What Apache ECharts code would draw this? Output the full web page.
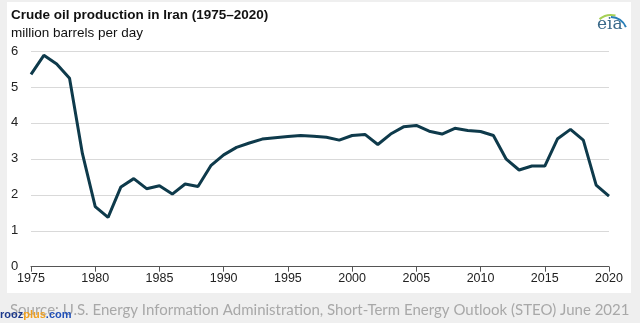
<!DOCTYPE html>
<html>
<head>
<meta charset="utf-8">
<script src="https://cdn.jsdelivr.net/npm/echarts@6/dist/echarts.min.js"></script>
<style>html,body{margin:0;padding:0;background:#efefef}#c{width:640px;height:323px}</style>
</head>
<body>
<div id="c"></div>
<script>
const years = [];
for (let y = 1975; y <= 2020; y++) years.push(y);
const production = [5.35,5.88,5.64,5.24,3.15,1.67,1.37,2.22,2.45,2.17,
  2.25,2.02,2.30,2.23,2.81,3.11,3.32,3.44,3.55,3.59,
  3.62,3.65,3.63,3.60,3.52,3.65,3.68,3.40,3.69,3.89,
  3.93,3.77,3.69,3.85,3.79,3.76,3.65,2.99,2.69,2.80,
  2.80,3.56,3.82,3.52,2.27,1.96];
const yTicks = [0,1,2,3,4,5,6];
const xTickYears = [1975,1980,1985,1990,1995,2000,2005,2010,2015,2020];

const chart = echarts.init(document.getElementById('c'), null, {renderer:'canvas'});
chart.setOption({
  backgroundColor: '#efefef',
  animation: false,
  grid: {left: 31, right: 31, top: 51, bottom: 56.3, containLabel: false},
  xAxis: {
    type: 'value', min: 1975, max: 2020, interval: 5,
    axisLine: {show: true, lineStyle: {color: '#555', width: 1}},
    axisTick: {show: true, length: 5, lineStyle: {color: '#555'}},
    axisLabel: {color: '#222', fontFamily: 'Arial, Liberation Sans', fontSize: 12.5, margin: 5,
      formatter: v => xTickYears.includes(v) ? String(v) : ''},
    splitLine: {show: false}
  },
  yAxis: {
    type: 'value', min: 0, max: 6, interval: 1,
    axisLine: {show: false}, axisTick: {show: false},
    axisLabel: {color: '#222', fontFamily: 'Arial, Liberation Sans', fontSize: 13, align: 'left', margin: 20,
      formatter: v => yTicks.includes(v) ? String(v) : ''},
    splitLine: {show: true, lineStyle: {color: '#d9d9d9', width: 1}}
  },
  series: [{
    type: 'line',
    data: years.map((y, i) => [y, production[i]]),
    showSymbol: false,
    lineStyle: {color: '#0e3a4b', width: 3},
    z: 5
  }],
  graphic: [
    {type: 'rect', z: -10, shape: {x: 7, y: 2, width: 624, height: 291}, style: {fill: '#fff'}},
    {type: 'text', left: 11, top: 8, style: {text: 'Crude oil production in Iran (1975\u20132020)', font: 'bold 13.5px Arial, Liberation Sans', fill: '#111'}},
    {type: 'text', left: 11, top: 26, style: {text: 'million barrels per day', font: '13.5px Arial, Liberation Sans', fill: '#111'}},
    {type: 'text', left: 597, top: 16, style: {text: 'eia', font: '17px DejaVu Serif, Liberation Serif, serif', fill: '#3b6a8a'}},
    {type: 'arc', shape: {cx: 611, cy: 33, r: 18, startAngle: -Math.PI*0.72, endAngle: -Math.PI*0.42}, style: {stroke: '#a6d055', lineWidth: 2, fill: null}},
    {type: 'arc', shape: {cx: 611, cy: 33, r: 16, startAngle: -Math.PI*0.5, endAngle: -Math.PI*0.12}, style: {stroke: '#2a7fb8', lineWidth: 2, fill: null}},
    {type: 'text', left: 10, top: 303, style: {text: 'Source: U.S. Energy Information Administration, Short-Term Energy Outlook (STEO) June 2021', font: '15px Lato, Open Sans, sans-serif', fill: '#a8a8a8'}},
    {type: 'text', left: 0, top: 309, z: 20, style: {text: '{a|rooz}{b|plus}{c|.com}', rich: {
      a: {fill: '#1e3a8c', font: 'bold 11px Arial, Liberation Sans'},
      b: {fill: '#f0a020', font: 'bold 11px Arial, Liberation Sans'},
      c: {fill: '#2050b8', font: 'bold 11px Arial, Liberation Sans'}
    }}}
  ]
});
</script>
</body>
</html>
